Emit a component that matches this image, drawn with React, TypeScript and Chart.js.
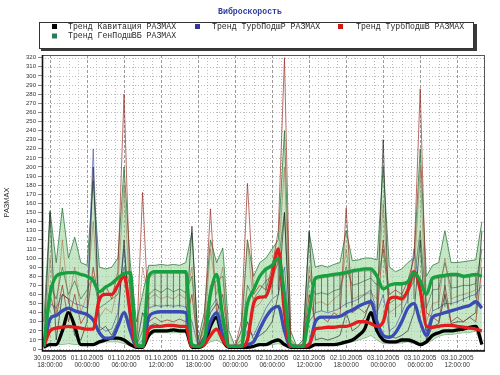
import React, { useEffect, useRef } from "react";
import { Chart, registerables } from "chart.js";

Chart.register(...registerables);

// ---------- data ----------
const chartTitle = "Виброскорость";
const yAxisTitle = "РАЗМАХ";

const hours = [
  -1, 0, 1, 2, 3, 4, 5, 6, 7, 8, 9,
  10, 11, 12, 13, 14, 15, 16, 17, 18, 19,
  20, 21, 22, 23, 24, 25, 26, 27, 28, 29,
  30, 31, 32, 33, 34, 35, 36, 37, 38, 39,
  40, 41, 42, 43, 44, 45, 46, 47, 48, 49,
  50, 51, 52, 53, 54, 55, 56, 57, 58, 59,
  60, 61, 62, 63, 64, 65, 66, 67, 68, 69,
  70,
];

const xTickHours = [0, 6, 12, 18, 24, 30, 36, 42, 48, 54, 60, 66];
const xTickDates = [
  "30.09.2005", "01.10.2005", "01.10.2005", "01.10.2005", "01.10.2005", "02.10.2005",
  "02.10.2005", "02.10.2005", "02.10.2005", "03.10.2005", "03.10.2005", "03.10.2005",
];
const xTickTimes = [
  "18:00:00", "00:00:00", "06:00:00", "12:00:00", "18:00:00", "00:00:00",
  "06:00:00", "12:00:00", "18:00:00", "00:00:00", "06:00:00", "12:00:00",
];
const yTicks = [
  0, 10, 20, 30, 40, 50, 60, 70, 80, 90, 100, 110, 120, 130, 140, 150, 160,
  170, 180, 190, 200, 210, 220, 230, 240, 250, 260, 270, 280, 290, 300, 310, 320,
];

const legendLabels = [
  "Тренд Кавитация РАЗМАХ",
  "Тренд ТурбПодшР РАЗМАХ",
  "Тренд ТурбПодшВ РАЗМАХ",
  "Тренд ГенПодшВБ РАЗМАХ",
];

const greenTrend = [
  3, 60, 80, 83, 84, 84, 82, 80, 75, 63, 68,
  72, 78, 83, 84, 5, 3, 80, 85, 85, 85,
  85, 85, 85, 5, 3, 10, 60, 82, 35, 3,
  3, 3, 50, 65, 80, 88, 92, 100, 60, 5,
  3, 3, 40, 78, 80, 81, 82, 83, 84, 86,
  87, 88, 88, 80, 66, 70, 72, 72, 74, 84,
  75, 60, 78, 80, 81, 82, 82, 80, 81, 82,
  80,
];
const redTrend = [
  3, 20, 23, 24, 25, 24, 23, 22, 22, 55, 60,
  60, 70, 80, 40, 3, 3, 22, 25, 25, 26,
  26, 25, 25, 3, 3, 5, 15, 22, 10, 3,
  3, 3, 10, 50, 57, 58, 80, 110, 40, 3,
  3, 3, 5, 22, 23, 24, 24, 25, 25, 27,
  30, 30, 28, 25, 30, 55, 57, 55, 65, 85,
  65, 25, 24, 25, 26, 26, 25, 24, 23, 22,
  20,
];
const blueTrend = [
  3, 33, 37, 42, 45, 42, 40, 38, 32, 18, 12,
  12, 25, 40, 20, 3, 3, 35, 40, 41, 41,
  41, 41, 40, 3, 3, 10, 30, 40, 15, 3,
  3, 3, 5, 8, 22, 35, 44, 47, 20, 3,
  3, 3, 5, 30, 35, 35, 35, 36, 40, 43,
  47, 50, 52, 30, 15, 13, 18, 30, 45, 50,
  30, 15, 35, 38, 40, 42, 44, 46, 48, 52,
  45,
];
const blackTrend = [
  2, 5, 5, 20, 40, 25, 5, 5, 5, 8, 10,
  12, 12, 10, 5, 2, 2, 15, 20, 20, 20,
  21, 20, 20, 2, 2, 5, 25, 35, 10, 2,
  2, 2, 2, 3, 5, 5, 8, 10, 5, 2,
  2, 2, 2, 5, 5, 5, 5, 6, 8, 10,
  15, 22, 40, 20, 10, 8, 8, 10, 10, 8,
  5, 8, 15, 18, 20, 20, 21, 22, 24, 25,
  5,
];
const upperEnv = [
  30, 152, 95, 155, 100, 123, 95, 92, 185, 90, 88,
  90, 100, 200, 95, 30, 60, 92, 92, 93, 92,
  93, 92, 95, 128, 10, 40, 120, 95, 111, 20,
  3, 20, 120, 80, 95, 100, 110, 120, 240, 20,
  3, 10, 128, 90, 92, 90, 93, 95, 130, 97,
  98, 100, 100, 98, 200, 90, 85, 88, 95, 100,
  220, 80, 92, 95, 130, 95, 95, 96, 97, 98,
  140,
];
const lowerEnv = [
  2, 5, 5, 5, 6, 5, 5, 4, 4, 6, 8,
  8, 8, 6, 4, 2, 2, 15, 18, 18, 18,
  18, 18, 18, 2, 2, 4, 8, 10, 6, 2,
  2, 2, 2, 3, 4, 4, 5, 6, 4, 2,
  2, 2, 2, 4, 4, 4, 4, 5, 6, 8,
  10, 12, 15, 10, 6, 6, 6, 7, 8, 6,
  4, 6, 10, 14, 16, 16, 17, 18, 18, 20,
  4,
];
const thinRed = [
  3, 60, 35, 70, 30, 60, 28, 40, 90, 50, 70,
  55, 85, 280, 60, 3, 172, 30, 35, 30, 32,
  30, 33, 30, 60, 3, 30, 154, 40, 60, 3,
  3, 30, 182, 60, 70, 65, 90, 130, 320, 10,
  3, 3, 60, 30, 35, 30, 40, 35, 155, 40,
  45, 40, 50, 35, 120, 60, 65, 60, 75, 100,
  286, 40, 35, 30, 70, 30, 35, 30, 35, 30,
  90,
];
const thinBrown = [
  3, 100, 40, 120, 50, 90, 40, 60, 140, 35, 45,
  40, 70, 180, 50, 3, 90, 55, 60, 55, 58,
  55, 60, 55, 90, 3, 20, 110, 60, 90, 3,
  3, 20, 120, 45, 50, 60, 70, 100, 200, 5,
  3, 5, 90, 50, 52, 48, 55, 60, 110, 55,
  58, 60, 62, 55, 160, 40, 45, 50, 60, 80,
  200, 30, 50, 52, 100, 55, 58, 60, 62, 65,
  100,
];
const thinBlack = [
  2, 150, 10, 60, 55, 15, 10, 30, 200, 20, 25,
  15, 30, 120, 20, 2, 40, 25, 28, 25, 27,
  25, 26, 25, 135, 2, 15, 40, 50, 40, 2,
  2, 5, 30, 10, 15, 20, 30, 60, 150, 2,
  2, 5, 130, 10, 12, 10, 12, 15, 40, 20,
  25, 35, 55, 30, 230, 15, 12, 15, 20, 40,
  120, 10, 25, 28, 60, 28, 30, 30, 35, 40,
  130,
];
const thinBlue = [
  3, 50, 45, 60, 55, 50, 48, 45, 220, 25, 20,
  22, 40, 110, 30, 3, 10, 45, 48, 47, 48,
  47, 48, 46, 30, 3, 15, 45, 55, 25, 3,
  3, 5, 20, 15, 30, 45, 55, 60, 90, 3,
  3, 3, 30, 40, 42, 40, 42, 45, 50, 52,
  55, 60, 65, 40, 60, 20, 25, 40, 55, 110,
  60, 20, 42, 45, 50, 50, 52, 55, 58, 60,
  70,
];
const thinGreen = [
  3, 70, 55, 90, 60, 75, 55, 65, 80, 45, 50,
  55, 60, 90, 70, 3, 20, 60, 66, 62, 67,
  63, 66, 62, 80, 3, 25, 70, 75, 80, 3,
  3, 10, 70, 55, 65, 75, 80, 95, 150, 3,
  3, 5, 80, 60, 62, 60, 64, 66, 90, 70,
  72, 75, 78, 70, 110, 50, 55, 58, 62, 75,
  130, 45, 65, 66, 95, 67, 68, 70, 70, 72,
  110,
];
// lower ends of the thin vertical strokes hanging under the green trend
const hatchLow = [
  null, null, null, null, null, null, null, null, null, null, null,
  null, null, null, null, null, null, 45, 46, 45, 46,
  45, 46, 45, null, null, null, null, null, null, null,
  null, null, null, null, null, 55, 60, 65, null, null,
  null, null, null, 40, 42, 41, 42, 44, 46, 48,
  50, 52, 55, 45, null, null, 35, 40, 50, 55,
  null, null, 42, 44, 46, 48, 50, 52, 54, 56,
  null,
];

// ---------- styles ----------
const C_BLACK = "#000000";
const C_BLUE = "#3a4cb4";
const C_RED = "#e21d1d";
const C_GREEN = "#16a03e";
const LEGEND_SWATCH = ["#000000", "#35379a", "#d01818", "#2b7d5a"];

const pts = (vals: number[]) => hours.map((h, i) => ({ x: h, y: vals[i] }));

const combPts = () => {
  const out: { x: number; y: number | null }[] = [];
  hours.forEach((h, i) => {
    const lo = hatchLow[i];
    if (lo === null) {
      out.push({ x: h, y: null });
      return;
    }
    const top = greenTrend[i] - 2;
    out.push({ x: h, y: top }, { x: h, y: lo }, { x: h, y: top });
  });
  return out;
};

const thick = (label: string, color: string, vals: number[]) => ({
  label,
  data: pts(vals),
  borderColor: color,
  backgroundColor: color,
  borderWidth: 3.3,
  pointRadius: 0,
  cubicInterpolationMode: "monotone" as const,
  fill: false,
});
const thin = (color: string, vals: number[], w = 0.8) => ({
  label: "",
  data: pts(vals),
  borderColor: color,
  borderWidth: w,
  pointRadius: 0,
  tension: 0,
  fill: false,
});

const framePlugin = {
  id: "frameGrid",
  beforeDatasetsDraw(chart: any) {
    const { ctx, chartArea: a, scales } = chart;
    const x = scales.x;
    const y = scales.y;
    ctx.save();
    ctx.beginPath();
    ctx.rect(a.left, a.top, a.right - a.left, a.bottom - a.top);
    ctx.clip();
    ctx.lineWidth = 1;
    ctx.strokeStyle = "#bdbdbd";
    ctx.setLineDash([1, 2]);
    for (const v of yTicks) {
      const py = Math.round(y.getPixelForValue(v)) + 0.5;
      ctx.beginPath();
      ctx.moveTo(a.left, py);
      ctx.lineTo(a.right, py);
      ctx.stroke();
    }
    for (let h = -1.5; h <= 71; h += 1.5) {
      if (xTickHours.includes(h)) continue;
      const px = Math.round(x.getPixelForValue(h)) + 0.5;
      ctx.beginPath();
      ctx.moveTo(px, a.top);
      ctx.lineTo(px, a.bottom);
      ctx.stroke();
    }
    ctx.strokeStyle = "#9a9a9a";
    ctx.setLineDash([3, 2]);
    for (const h of xTickHours) {
      const px = Math.round(x.getPixelForValue(h)) + 0.5;
      ctx.beginPath();
      ctx.moveTo(px, a.top);
      ctx.lineTo(px, a.bottom);
      ctx.stroke();
    }
    ctx.restore();
  },
  afterDatasetsDraw(chart: any) {
    const { ctx, chartArea: a } = chart;
    ctx.save();
    ctx.setLineDash([]);
    ctx.strokeStyle = "#555";
    ctx.lineWidth = 1;
    ctx.strokeRect(a.left + 0.5, a.top + 0.5, a.right - a.left - 1, a.bottom - a.top);
    ctx.strokeStyle = "#111";
    ctx.lineWidth = 1.6;
    ctx.beginPath();
    ctx.moveTo(a.left + 0.5, a.top);
    ctx.lineTo(a.left + 0.5, a.bottom + 1);
    ctx.lineTo(a.right, a.bottom + 1);
    ctx.stroke();
    ctx.restore();
  },
  afterDraw(chart: any) {
    const { ctx } = chart;
    ctx.save();
    ctx.font = 'bold 8.2px "Liberation Mono", "DejaVu Sans Mono", monospace';
    ctx.fillStyle = "#2d3a9c";
    ctx.textAlign = "center";
    ctx.textBaseline = "middle";
    ctx.fillText(chartTitle, 250, 12);
    ctx.fillStyle = "#3a3a3a";
    ctx.fillRect(41, 24, 436, 27);
    ctx.fillStyle = "#ffffff";
    ctx.fillRect(39, 22, 435, 27);
    ctx.strokeStyle = "#333";
    ctx.lineWidth = 1;
    ctx.strokeRect(39.5, 22.5, 434, 26);
    const items = [
      { sx: 52, tx: 68, y: 26.5 },
      { sx: 195, tx: 212, y: 26.5 },
      { sx: 338, tx: 356, y: 26.5 },
      { sx: 52, tx: 68, y: 36 },
    ];
    ctx.font = '8.2px "Liberation Mono", "DejaVu Sans Mono", monospace';
    ctx.textAlign = "left";
    ctx.textBaseline = "middle";
    items.forEach((it, i) => {
      ctx.fillStyle = LEGEND_SWATCH[i];
      ctx.fillRect(it.sx, it.y - 2.5, 5, 5);
      ctx.fillStyle = "#2a2a2a";
      ctx.fillText(legendLabels[i], it.tx, it.y);
    });
    ctx.restore();
  },
};

export default function App() {
  const ref = useRef<HTMLCanvasElement | null>(null);
  useEffect(() => {
    if (!ref.current) return;
    const chart = new Chart(ref.current, {
      type: "line",
      data: {
        datasets: [
          thick(legendLabels[3], C_GREEN, greenTrend),
          thick(legendLabels[2], C_RED, redTrend),
          thick(legendLabels[1], C_BLUE, blueTrend),
          thick(legendLabels[0], C_BLACK, blackTrend),
          {
            label: "",
            data: combPts(),
            borderColor: "rgba(50,60,50,0.55)",
            borderWidth: 0.7,
            pointRadius: 0,
            tension: 0,
            spanGaps: false,
            fill: false,
          },
          thin("rgba(150,40,30,0.85)", thinRed),
          thin("rgba(160,90,60,0.6)", thinBrown),
          thin("rgba(30,30,30,0.8)", thinBlack),
          thin("rgba(60,70,170,0.75)", thinBlue),
          thin("rgba(45,95,45,0.75)", thinGreen),
          {
            label: "",
            data: pts(upperEnv),
            borderColor: "rgba(30,110,50,0.9)",
            backgroundColor: "rgba(150,212,150,0.55)",
            borderWidth: 0.8,
            pointRadius: 0,
            tension: 0,
            fill: "+1",
          },
          thin("rgba(30,110,50,0.6)", lowerEnv),
        ] as any,
      },
      options: {
        responsive: false,
        animation: false,
        events: [],
        layout: { padding: { top: 55, right: 15, left: 0, bottom: 0 } },
        plugins: {
          legend: { display: false },
          title: { display: false },
          tooltip: { enabled: false },
        },
        scales: {
          x: {
            type: "linear",
            min: -1.3,
            max: 70.5,
            afterBuildTicks: (scale: any) => {
              scale.ticks = xTickHours.map((v) => ({ value: v }));
            },
            afterFit: (scale: any) => {
              scale.height = 25;
            },
            grid: { drawOnChartArea: false, drawTicks: false },
            border: { display: false },
            ticks: {
              autoSkip: false,
              maxRotation: 0,
              minRotation: 0,
              padding: 4,
              color: "#333",
              font: { family: '"Liberation Sans", Arial, sans-serif', size: 6.5, lineHeight: 1.2 },
              callback: (v: any) => {
                const i = xTickHours.indexOf(Number(v));
                return i >= 0 ? [xTickDates[i], xTickTimes[i]] : "";
              },
            },
          },
          y: {
            type: "linear",
            min: -1,
            max: 323,
            afterBuildTicks: (scale: any) => {
              scale.ticks = yTicks.map((v) => ({ value: v }));
            },
            afterFit: (scale: any) => {
              scale.width = 42;
            },
            grid: { drawOnChartArea: false, drawTicks: true, tickLength: 4, tickColor: "#888" },
            border: { display: false },
            title: {
              display: true,
              text: yAxisTitle,
              color: "#333",
              padding: { top: 2, bottom: 0 },
              font: { family: '"Liberation Sans", Arial, sans-serif', size: 7.5 },
            },
            ticks: {
              autoSkip: false,
              padding: 2,
              color: "#333",
              font: { family: '"Liberation Sans", Arial, sans-serif', size: 6 },
              callback: (v: any) => String(v),
            },
          },
        },
      } as any,
      plugins: [framePlugin],
    });
    return () => chart.destroy();
  }, []);

  return (
    <div style={{ position: "absolute", left: 0, top: 0, width: 500, height: 375, background: "#fff" }}>
      <canvas ref={ref} width={500} height={375} style={{ display: "block", width: 500, height: 375 }} />
    </div>
  );
}
